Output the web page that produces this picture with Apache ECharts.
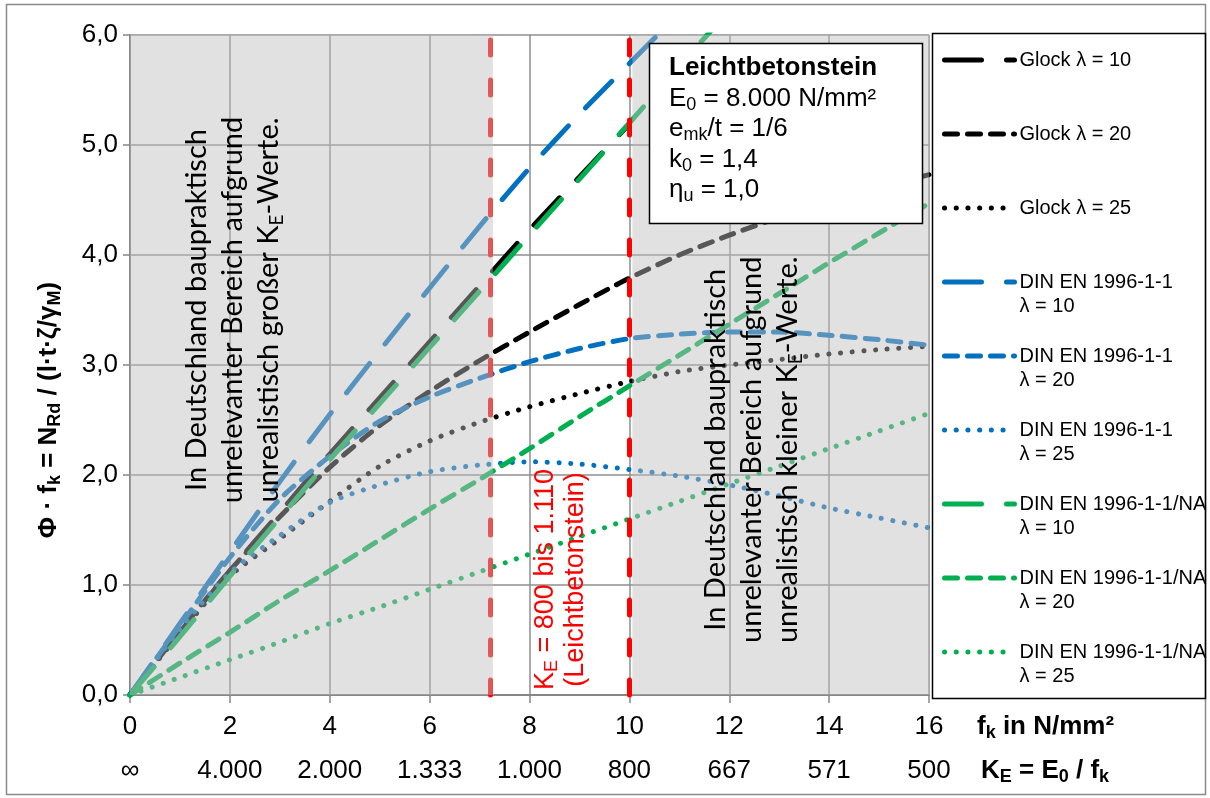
<!DOCTYPE html>
<html>
<head>
<meta charset="utf-8">
<script src="https://cdn.jsdelivr.net/npm/echarts@6/dist/echarts.min.js"></script>
<style>
  html, body { margin: 0; padding: 0; background: #ffffff; }
  #chart { width: 1210px; height: 798px; }
</style>
</head>
<body>
<div id="chart"></div>
<script>
// Bemessungswerte Leichtbetonstein, E0 = 8.000 N/mm²
const E0 = 8000;
const fkValues = [0, 1, 2, 3, 4, 5, 6, 7, 8, 9, 10, 11, 12, 13, 14, 15, 16];

const glock10 = [0, 0.57, 1.13, 1.66, 2.19, 2.70, 3.21, 3.72, 4.23, 4.71, 5.19];
const glock20 = [0, 0.58, 1.13, 1.62, 2.07, 2.45, 2.76, 3.04, 3.30, 3.55, 3.79, 4.00, 4.18, 4.34, 4.48, 4.61, 4.73];
const glock25 = [0, 0.56, 1.08, 1.42, 1.76, 2.08, 2.31, 2.48, 2.62, 2.74, 2.85, 2.94, 3.00, 3.05, 3.10, 3.14, 3.17];
const din10 = [0, 0.65, 1.30, 1.94, 2.55, 3.13, 3.70, 4.26, 4.79, 5.28, 5.74, 6.20];
const din20 = [0, 0.63, 1.25, 1.78, 2.17, 2.49, 2.71, 2.88, 3.03, 3.15, 3.24, 3.28, 3.30, 3.30, 3.27, 3.23, 3.18];
const din25 = [0, 0.60, 1.11, 1.45, 1.75, 1.91, 2.03, 2.09, 2.12, 2.10, 2.05, 1.99, 1.91, 1.81, 1.70, 1.61, 1.52];
const na10 = [0, 0.53, 1.08, 1.61, 2.14, 2.65, 3.16, 3.67, 4.18, 4.69, 5.20, 5.72, 6.22];
const na20 = [0, 0.29, 0.57, 0.86, 1.13, 1.41, 1.69, 1.96, 2.24, 2.53, 2.81, 3.09, 3.37, 3.65, 3.93, 4.20, 4.47];
const na25 = [0, 0.16, 0.32, 0.48, 0.65, 0.80, 0.96, 1.12, 1.28, 1.44, 1.60, 1.76, 1.92, 2.08, 2.24, 2.40, 2.56];

const seriesNames = [
  'Glock λ = 10', 'Glock λ = 20', 'Glock λ = 25',
  'DIN EN 1996-1-1 λ = 10', 'DIN EN 1996-1-1 λ = 20', 'DIN EN 1996-1-1 λ = 25',
  'DIN EN 1996-1-1/NA λ = 10', 'DIN EN 1996-1-1/NA λ = 20', 'DIN EN 1996-1-1/NA λ = 25'
];
const legendLabels = [
  ['Glock λ = 10'], ['Glock λ = 20'], ['Glock λ = 25'],
  ['DIN EN 1996-1-1', 'λ = 10'], ['DIN EN 1996-1-1', 'λ = 20'], ['DIN EN 1996-1-1', 'λ = 25'],
  ['DIN EN 1996-1-1/NA', 'λ = 10'], ['DIN EN 1996-1-1/NA', 'λ = 20'], ['DIN EN 1996-1-1/NA', 'λ = 25']
];
const seriesValues = [glock10, glock20, glock25, din10, din20, din25, na10, na20, na25];

// K_E range of lightweight concrete units and the K_E = E0 / fk tick labels
const keRange = [1110, 800];
const keTickLabels = ['∞', '4.000', '2.000', '1.333', '1.000', '800', '667', '571', '500'];

const FONT = "'Liberation Sans', Arial, sans-serif";
const colors = { glock: '#000000', din: '#0070C0', na: '#00B050' };
const familyColor = [colors.glock, colors.glock, colors.glock, colors.din, colors.din, colors.din, colors.na, colors.na, colors.na];
const dashStyles = [
  { type: [37, 25], width: 5 },     // λ = 10, lang gestrichelt
  { type: [13, 10], width: 5 },     // λ = 20, gestrichelt
  { type: [0.1, 11.6], width: 5 }   // λ = 25, gepunktet
];

const fkLow = E0 / keRange[0];
const fkHigh = E0 / keRange[1];

const series = seriesValues.map((vals, i) => ({
  name: seriesNames[i],
  type: 'line',
  data: vals.map((v, k) => [fkValues[k], v]),
  symbol: 'none',
  smooth: 0.25,
  z: 2,
  color: familyColor[i],
  lineStyle: {
    color: familyColor[i],
    width: dashStyles[i % 3].width,
    type: dashStyles[i % 3].type,
    cap: 'round',
    join: 'round'
  }
}));

// red dashed bounds of the K_E range
series[series.length - 1].markLine = {
  silent: true,
  symbol: 'none',
  animation: false,
  label: { show: false },
  lineStyle: { color: '#FF0000', width: 5, type: [15, 25], cap: 'round' },
  data: [{ xAxis: fkLow }, { xAxis: fkHigh }]
};

// translucent grey zones outside the relevant range (drawn above the curves)
series.push({
  name: 'zones',
  type: 'custom',
  silent: true,
  z: 5,
  data: [[0, fkLow, 0], [fkHigh, 16, 0]],
  encode: { x: [0, 1], y: 2 },
  renderItem: (params, api) => {
    const p0 = api.coord([api.value(0), 6]);
    const p1 = api.coord([api.value(1), 0]);
    const padL = params.dataIndex === 0 ? 0 : 3;
    const padR = params.dataIndex === 0 ? 3 : 0;
    return {
      type: 'rect',
      shape: { x: p0[0] + padL, y: p0[1], width: p1[0] - p0[0] + padR - padL, height: p1[1] - p0[1] },
      style: { fill: 'rgba(190,190,190,0.46)' }
    };
  }
});

const subRich = (size, subSize, lh, subLh, weight) => ({
  b: { fontFamily: FONT, fontSize: size, fontWeight: weight, color: '#000', lineHeight: lh },
  s: { fontFamily: FONT, fontSize: subSize, fontWeight: weight, color: '#000', lineHeight: subLh, verticalAlign: 'bottom' }
});

const chart = echarts.init(document.getElementById('chart'), null, { renderer: 'canvas' });

chart.setOption({
  animation: false,
  backgroundColor: '#ffffff',
  grid: { left: 130, right: 281, top: 35, bottom: 103, containLabel: false },
  legend: {
    orient: 'vertical',
    left: 942,
    top: 24,
    padding: 0,
    itemGap: 2,
    itemWidth: 70,
    itemHeight: 14,
    selectedMode: false,
    data: seriesNames,
    formatter: name => {
      const l = legendLabels[seriesNames.indexOf(name)];
      return '\n' + l[0] + '\n' + (l[1] || '');
    },
    textStyle: { fontFamily: FONT, fontSize: 20, color: '#000', lineHeight: 24 },
    lineStyle: { width: 'inherit' },
    itemStyle: { color: 'rgba(0,0,0,0)', borderWidth: 0, opacity: 0 }
  },
  xAxis: [
    {
      type: 'value', min: 0, max: 16, interval: 2,
      name: '{b|f}{s|k}{b| in N/mm²}',
      nameLocation: 'end', nameGap: 48,
      nameTextStyle: { padding: [64, 0, 0, 0], rich: subRich(26, 18, 30, 14, 'bold') },
      axisLine: { show: true, lineStyle: { color: '#868686', width: 2 } },
      axisTick: { show: true, inside: false, length: 8, lineStyle: { color: '#868686', width: 1.5 } },
      splitLine: { show: true, lineStyle: { color: '#8e8e8e', width: 1.5 } },
      axisLabel: { fontFamily: FONT, fontSize: 26, color: '#000', margin: 19 }
    },
    {
      type: 'value', min: 0, max: 16, interval: 2, position: 'bottom', offset: 44,
      name: '{b|K}{s|E}{b| = E}{s|0}{b| / f}{s|k}',
      nameLocation: 'end', nameGap: 52,
      nameTextStyle: { padding: [64, 0, 0, 0], rich: subRich(26, 18, 30, 14, 'bold') },
      axisLine: { show: false }, axisTick: { show: false }, splitLine: { show: false },
      axisLabel: {
        fontFamily: FONT, fontSize: 26, color: '#000', margin: 19,
        formatter: v => keTickLabels[Math.round(v / 2)]
      }
    }
  ],
  yAxis: {
    type: 'value', min: 0, max: 6, interval: 1,
    name: '{b|Φ · f}{s|k}{b| = N}{s|Rd}{b| / (l·t·ζ/γ}{s|M}{b|)}',
    nameLocation: 'middle', nameGap: 66, nameRotate: 90,
    nameTextStyle: { padding: [0, 90, 0, 0], rich: subRich(26, 18, 30, 14, 'bold') },
    axisLine: { show: true, lineStyle: { color: '#868686', width: 2 } },
    axisTick: { show: true, inside: false, length: 7, lineStyle: { color: '#868686', width: 1.5 } },
    splitLine: { show: true, lineStyle: { color: '#8e8e8e', width: 1.5 } },
    axisLabel: {
      fontFamily: FONT, fontSize: 26, color: '#000', margin: 12,
      formatter: v => v.toFixed(1).replace('.', ',')
    }
  },
  series
});

const toPx = p => chart.convertToPixel({ xAxisIndex: 0, yAxisIndex: 0 }, p);
const leftNote = toPx([2.06, 3.5]);
const rightNote = toPx([12.45, 2.23]);
const redNote = toPx([8.63, 1.05]);

const noteRich = {
  s: { fontFamily: 'Lato', fontSize: 19, fill: '#000', lineHeight: 22, verticalAlign: 'bottom' }
};

chart.setOption({
  graphic: [
    { type: 'rect', z: 100, silent: true,
      shape: { x: 6.5, y: 4.5, width: 1199, height: 790 },
      style: { fill: 'none', stroke: '#8a8a8a', lineWidth: 1.5 } },
    { type: 'rect', z: 100, silent: true,
      shape: { x: 932.5, y: 33.5, width: 273, height: 665 },
      style: { fill: 'none', stroke: '#000', lineWidth: 1.5 } },
    { type: 'text', z: 100, silent: true, x: leftNote[0], y: leftNote[1], rotation: Math.PI / 2,
      style: {
        text: 'In Deutschland baupraktisch\nunrelevanter Bereich aufgrund\nunrealistisch großer K{s|E}-Werte.',
        fontFamily: 'Lato', fontSize: 29, fill: '#000', lineHeight: 36,
        align: 'center', verticalAlign: 'middle', rich: noteRich
      } },
    { type: 'text', z: 100, silent: true, x: rightNote[0], y: rightNote[1], rotation: Math.PI / 2,
      style: {
        text: 'In Deutschland baupraktisch\nunrelevanter Bereich aufgrund\nunrealistisch kleiner K{s|E}-Werte.',
        fontFamily: 'Lato', fontSize: 29, fill: '#000', lineHeight: 36,
        align: 'center', verticalAlign: 'middle', rich: noteRich
      } },
    { type: 'text', z: 100, silent: true, x: redNote[0], y: redNote[1], rotation: Math.PI / 2,
      style: {
        text: 'K{r|E} = 800 bis 1.110\n(Leichtbetonstein)',
        fontFamily: FONT, fontSize: 27, fill: '#FF0000', lineHeight: 30,
        align: 'center', verticalAlign: 'middle',
        rich: { r: { fontFamily: FONT, fontSize: 18, fill: '#FF0000', lineHeight: 16, verticalAlign: 'bottom' } }
      } },
    { type: 'rect', z: 100, silent: true,
      shape: { x: 649.5, y: 43.5, width: 273, height: 180 },
      style: { fill: '#ffffff', stroke: '#000', lineWidth: 1.5 } },
    { type: 'text', z: 101, silent: true, x: 669, y: 53,
      style: {
        text: '{t|Leichtbetonstein}\nE{s|0} = 8.000 N/mm²\ne{s|mk}/t = 1/6\nk{s|0} = 1,4\nη{s|u} = 1,0',
        fontFamily: FONT, fontSize: 26, fill: '#000', lineHeight: 30.5,
        align: 'left', verticalAlign: 'top',
        rich: {
          t: { fontFamily: FONT, fontSize: 26, fontWeight: 'bold', fill: '#000', lineHeight: 30.5 },
          s: { fontFamily: FONT, fontSize: 18, fill: '#000', lineHeight: 14, verticalAlign: 'bottom' }
        }
      } }
  ]
});
</script>
</body>
</html>
